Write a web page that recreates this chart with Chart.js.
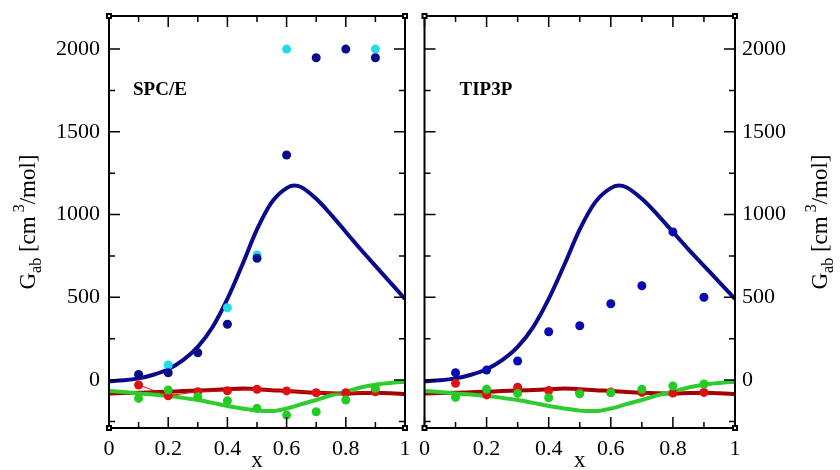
<!DOCTYPE html>
<html>
<head>
<meta charset="utf-8">
<script src="https://cdn.jsdelivr.net/npm/chart.js@4.4.0/dist/chart.umd.min.js"></script>
<style>
  html, body { margin: 0; padding: 0; background: #fff; }
  #wrap { position: relative; width: 840px; height: 470px; }
  .panel { position: absolute; top: 0; width: 420px; height: 470px; }
</style>
</head>
<body>
<div id="wrap">
  <div class="panel" style="left:0"><canvas id="spce"></canvas></div>
  <div class="panel" style="left:420px"><canvas id="tip3p"></canvas></div>
</div>
<script>
// model curves, same in both panels
const CURVE_X = [0, 0.05, 0.1, 0.15, 0.2, 0.25, 0.3, 0.35, 0.4, 0.45, 0.5, 0.55, 0.6, 0.625, 0.65, 0.7, 0.75, 0.8, 0.85, 0.9, 0.95, 1];
const BLUE_CURVE = [-8, -2, 10, 32, 65, 120, 200, 320, 490, 695, 910, 1075, 1160, 1175, 1165, 1095, 1000, 895, 790, 690, 590, 490];
const LOW_X = [0, 0.05, 0.1, 0.15, 0.2, 0.25, 0.3, 0.35, 0.4, 0.45, 0.5, 0.55, 0.6, 0.65, 0.7, 0.75, 0.8, 0.85, 0.9, 0.95, 1];
const RED_CURVE = [-81, -79, -77, -74, -71, -67, -64, -60, -56, -52, -56, -62, -66, -72, -77, -80, -81, -79, -77, -80, -85];
const GREEN_CURVE = [-66, -73, -81, -88, -97, -108, -121, -138, -157, -172, -185, -188, -172, -146, -121, -92, -70, -45, -28, -18, -10];

// simulation points
const POINT_X = [0.1, 0.2, 0.3, 0.4, 0.5, 0.6, 0.7, 0.8, 0.9];
const SPCE_BLUE = [34, 44, 165, 337, 736, 1360, 1948, 2000, 1948];
const SPCE_CYAN_X = [0.2, 0.4, 0.5, 0.6, 0.9];
const SPCE_CYAN = [91, 437, 756, 2000, 2000];
const SPCE_RED = [-30, -95, -71, -65, -56, -66, -77, -77, -71];
const SPCE_GREEN = [-111, -60, -101, -125, -171, -212, -192, -121, -50];
const TIP3P_BLUE = [44, 60, 115, 292, 328, 461, 570, 895, 500];
const TIP3P_RED = [-20, -90, -44, -64, -75, -73, -75, -79, -75];
const TIP3P_GREEN = [-105, -56, -81, -107, -84, -77, -56, -36, -24];

const X_TICKS = [0, 0.2, 0.4, 0.6, 0.8, 1];
const Y_TICKS = [0, 500, 1000, 1500, 2000];

const SERIF = '"Liberation Serif", "Times New Roman", serif';
const pts = (xs, ys) => xs.map((x, i) => ({ x: x, y: ys[i] }));

function curve(data, color) {
    return { data: data, showLine: true, borderColor: color, borderWidth: 4, pointRadius: 0,
             cubicInterpolationMode: 'monotone', order: 2 };
}
function dots(data, color, line) {
    return {
        data: data, backgroundColor: color, borderColor: color, pointRadius: 4.5, pointBorderWidth: 0,
        showLine: !!line, borderWidth: 1, order: 1
    };
}

// frame with inward ticks, panel name, axis titles
const framePlugin = {
    id: 'frame',
    afterDatasetsDraw(chart, args, opts) {
        const ctx = chart.ctx, a = chart.chartArea;
        const xs = chart.scales.x, ys = chart.scales.y;
        ctx.save();
        ctx.strokeStyle = '#000';
        ctx.lineWidth = 1.5;
        for (let i = 0; i <= 10; i++) {
            const px = xs.getPixelForValue(i / 10);
            const len = i % 2 === 0 ? 11 : 6;
            ctx.beginPath();
            ctx.moveTo(px, a.bottom); ctx.lineTo(px, a.bottom - len);
            ctx.moveTo(px, a.top); ctx.lineTo(px, a.top + len);
            ctx.stroke();
        }
        for (let v = -250; v <= 2200; v += 250) {
            const py = ys.getPixelForValue(v);
            const len = v % 500 === 0 ? 11 : 6;
            ctx.beginPath();
            ctx.moveTo(a.left, py); ctx.lineTo(a.left + len, py);
            ctx.moveTo(a.right, py); ctx.lineTo(a.right - len, py);
            ctx.stroke();
        }
        ctx.lineWidth = 2;
        ctx.strokeRect(a.left, a.top, a.right - a.left, a.bottom - a.top);
        [[a.left, a.top], [a.right, a.top], [a.left, a.bottom], [a.right, a.bottom]].forEach(c => {
            ctx.fillStyle = '#000';
            ctx.fillRect(c[0] - 3, c[1] - 3, 6, 6);
            ctx.fillStyle = '#fff';
            ctx.fillRect(c[0] - 1, c[1] - 1, 2, 2);
        });
        ctx.fillStyle = '#000';

        // panel name
        ctx.font = 'bold 19px ' + SERIF;
        ctx.textBaseline = 'alphabetic';
        ctx.textAlign = 'left';
        ctx.fillText(opts.name, a.left + opts.nameDx, opts.nameY);

        // x title
        ctx.font = '23px ' + SERIF;
        ctx.textAlign = 'center';
        ctx.fillText('x', (a.left + a.right) / 2, 467);
        ctx.textAlign = 'left';

        // y title G_ab [cm^3/mol]
        const big = '23px ' + SERIF, small = '16px ' + SERIF;
        const parts = [
            ['G', big, 0], ['ab', small, 6], [' [cm', big, 0], [' 3', small, -11], ['/mol]', big, 0]
        ];
        let total = 0;
        parts.forEach(p => { ctx.font = p[1]; total += ctx.measureText(p[0]).width; });
        ctx.translate(opts.titleX, (a.top + a.bottom) / 2);
        ctx.rotate(-Math.PI / 2);
        let x = -total / 2;
        parts.forEach(p => {
            ctx.font = p[1];
            ctx.fillText(p[0], x, p[2]);
            x += ctx.measureText(p[0]).width;
        });
        ctx.restore();
    }
};

function makeChart(id, side, name, sets, nameDx, titleX) {
    const left = side === 'left';
    return new Chart(document.getElementById(id), {
        type: 'scatter',
        data: { datasets: sets },
        options: {
            responsive: false,
            animation: false,
            layout: { padding: left ? { top: 16, right: 15, left: 0 } : { top: 16, left: 3, right: 0 } },
            plugins: {
                legend: { display: false },
                tooltip: { enabled: false },
                frame: { name: name, nameDx: nameDx, nameY: 95, titleX: titleX }
            },
            scales: {
                x: {
                    type: 'linear', min: 0, max: 1,
                    afterBuildTicks: s => { s.ticks = X_TICKS.map(v => ({ value: v })); },
                    afterFit: s => { s.height = 42; s.paddingLeft = 0; s.paddingRight = 0; },
                    grid: { display: false, drawTicks: false },
                    border: { display: false },
                    ticks: { padding: 8, color: '#000', font: { family: SERIF, size: 22 }, maxRotation: 0,
                             callback: v => String(Math.round(v * 10) / 10) }
                },
                y: {
                    type: 'linear', min: -290, max: 2200, position: side,
                    afterBuildTicks: s => { s.ticks = Y_TICKS.map(v => ({ value: v })); },
                    afterFit: s => { s.width = left ? 109 : 105; s.paddingTop = 0; s.paddingBottom = 0; },
                    grid: { display: false, drawTicks: false },
                    border: { display: false },
                    ticks: { padding: left ? 9 : 7, color: '#000', font: { family: SERIF, size: 22 },
                             callback: v => String(v) }
                }
            }
        },
        plugins: [framePlugin]
    });
}

['spce', 'tip3p'].forEach(id => {
    document.getElementById(id).width = 420;
    document.getElementById(id).height = 470;
});

makeChart('spce', 'left', 'SPC/E', [
    curve(pts(CURVE_X, BLUE_CURVE), '#0a0a8c'),
    curve(pts(LOW_X, GREEN_CURVE), '#2ecc2e'),
    curve(pts(LOW_X, RED_CURVE), '#a50000'),
    dots(pts(POINT_X, SPCE_GREEN), '#22cc22'),
    dots(pts(POINT_X, SPCE_RED), '#dd1111', true),
    dots(pts(POINT_X, SPCE_BLUE), '#0c0c8a'),
    dots(pts(SPCE_CYAN_X, SPCE_CYAN), '#22dde8')
], 24, 35);

makeChart('tip3p', 'right', 'TIP3P', [
    curve(pts(CURVE_X, BLUE_CURVE), '#0a0a8c'),
    curve(pts(LOW_X, GREEN_CURVE), '#2ecc2e'),
    curve(pts(LOW_X, RED_CURVE), '#a50000'),
    dots(pts(POINT_X, TIP3P_GREEN), '#22cc22'),
    dots(pts(POINT_X, TIP3P_RED), '#dd1111'),
    dots(pts(POINT_X, TIP3P_BLUE), '#0a0ab4')
], 35, 407);
</script>
</body>
</html>
